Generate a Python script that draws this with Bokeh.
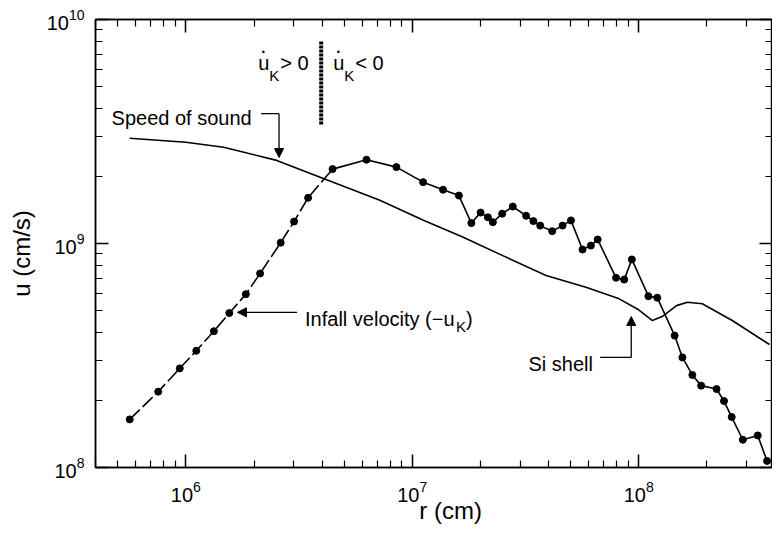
from bokeh.plotting import figure
from bokeh.models import (LogAxis, FixedTicker, Label, Arrow, NormalHead, Range1d,
                          CustomJSTickFormatter)
from bokeh.embed import file_html
from bokeh.resources import INLINE

# ---------------- data ----------------
sound_r = [5.65e5, 1.00e6, 1.47e6, 2.52e6, 4.05e6, 7.19e6, 1.12e7, 1.67e7,
           2.51e7, 3.90e7, 5.85e7, 8.20e7, 1.00e8, 1.15e8, 1.27e8, 1.47e8, 1.64e8,
           1.91e8, 2.59e8, 3.78e8]
sound_u = [2.95e9, 2.83e9, 2.69e9, 2.35e9, 1.95e9, 1.56e9, 1.27e9, 1.07e9,
           8.83e8, 7.19e8, 6.38e8, 5.66e8, 5.06e8, 4.53e8, 4.72e8, 5.28e8, 5.47e8,
           5.38e8, 4.53e8, 3.54e8]

# infall velocity, dashed inner part (up to the crossing)
infall_in_r = [5.65e5, 7.55e5, 9.40e5, 1.112e6, 1.33e6, 1.556e6, 1.841e6, 2.128e6,
               2.624e6, 3.006e6, 3.467e6, 4.446e6]
infall_in_u = [1.64e8, 2.18e8, 2.77e8, 3.32e8, 4.06e8, 4.89e8, 5.94e8, 7.35e8,
               1.009e9, 1.253e9, 1.600e9, 2.148e9]
# infall velocity, solid outer part
infall_out_r = [4.446e6, 6.281e6, 8.51e6, 1.117e7, 1.368e7, 1.607e7, 1.824e7, 2.004e7,
                2.158e7, 2.270e7, 2.495e7, 2.780e7, 3.184e7, 3.428e7, 3.673e7, 4.150e7,
                4.613e7, 5.023e7, 5.649e7, 6.152e7, 6.592e7, 7.943e7, 8.630e7, 9.33e7,
                1.104e8, 1.208e8, 1.442e8, 1.560e8, 1.726e8, 1.888e8, 2.208e8, 2.382e8,
                2.576e8, 2.884e8, 3.357e8, 3.690e8]
infall_out_u = [2.148e9, 2.366e9, 2.193e9, 1.879e9, 1.738e9, 1.637e9, 1.233e9, 1.374e9,
                1.309e9, 1.245e9, 1.358e9, 1.462e9, 1.330e9, 1.259e9, 1.202e9, 1.135e9,
                1.202e9, 1.268e9, 9.40e8, 9.79e8, 1.042e9, 7.03e8, 6.90e8, 8.49e8,
                5.82e8, 5.73e8, 3.88e8, 3.10e8, 2.59e8, 2.32e8, 2.24e8, 1.98e8,
                1.68e8, 1.33e8, 1.39e8, 1.07e8]

x_major = [1e6, 1e7, 1e8]
x_minor = [m * 10 ** e for e in (5, 6, 7, 8) for m in range(2, 10)]
y_major = [1e8, 1e9, 1e10]
y_minor = [m * 10 ** e for e in (8, 9) for m in range(2, 10)]

FONT = "Liberation Sans"
NB = "\u00a0"

p = figure(width=772, height=527, x_axis_type="log", y_axis_type="log",
           x_range=Range1d(3.99e5, 3.90e8), y_range=Range1d(1e8, 1e10),
           x_axis_label=NB * 5 + "r (cm)", y_axis_label="u (cm/s)" + NB * 3,
           output_backend="svg", toolbar_location=None,
           min_border_left=95, min_border_right=0, min_border_top=19,
           min_border_bottom=60)
p.xgrid.visible = False
p.ygrid.visible = False
p.outline_line_color = "black"
p.outline_line_width = 1.5
p.background_fill_color = "white"
p.border_fill_color = "white"


def style_axis(ax, labels=True):
    ax.axis_line_width = 1.5
    ax.axis_line_color = "black"
    ax.major_tick_in = 13
    ax.major_tick_out = 0
    ax.minor_tick_in = 7
    ax.minor_tick_out = 0
    ax.major_tick_line_width = 1.5
    ax.minor_tick_line_width = 1.2
    ax.major_tick_line_color = "black"
    ax.minor_tick_line_color = "black"
    ax.major_label_text_font = FONT
    ax.major_label_text_color = "black"
    ax.axis_label_text_font = FONT
    ax.axis_label_text_font_style = "normal"
    ax.axis_label_text_color = "black"
    ax.major_label_text_font_size = "20px"
    ax.axis_label_text_font_size = "24px"
    if not labels:
        ax.formatter = CustomJSTickFormatter(code="return ''")
        ax.major_label_standoff = 0


xt = FixedTicker(ticks=x_major, minor_ticks=x_minor)
yt = FixedTicker(ticks=y_major, minor_ticks=y_minor)

bx = p.xaxis[0]
bx.ticker = xt
style_axis(bx)
bx.major_label_standoff = 13
bx.axis_label_standoff = -8

ly = p.yaxis[0]
ly.ticker = yt
style_axis(ly)
ly.major_label_standoff = 11
ly.axis_label_standoff = 9

tx = LogAxis(ticker=xt)
style_axis(tx, labels=False)
p.add_layout(tx, "above")
ry = LogAxis(ticker=yt)
style_axis(ry, labels=False)
p.add_layout(ry, "right")

# ---------------- curves ----------------
p.line(sound_r, sound_u, line_color="black", line_width=1.6)
p.line(infall_in_r, infall_in_u, line_color="black", line_width=1.6, line_dash="14 4")
p.line(infall_out_r, infall_out_u, line_color="black", line_width=1.6)
p.scatter(infall_in_r + infall_out_r[1:], infall_in_u + infall_out_u[1:],
          size=7, marker="circle", fill_color="black", line_color="black")

# ---------------- annotations ----------------
def lab(x, y, text, size=20, dx=0, dy=0, align="left", baseline="alphabetic"):
    p.add_layout(Label(x=x, y=y, text=text, x_offset=dx, y_offset=dy,
                       text_font=FONT, text_font_size=f"{size}px",
                       text_align=align, text_baseline=baseline,
                       text_color="black"))

def arrow(x0, y0, x1, y1):
    p.add_layout(Arrow(x_start=x0, y_start=y0, x_end=x1, y_end=y1,
                       line_color="black", line_width=1.3,
                       end=NormalHead(size=9, fill_color="black", line_color="black",
                                      line_width=1)))

# dividing wavy line where du_K/dt changes sign
p.line([3.96e6, 3.96e6], [7.98e9, 3.40e9], line_color="black", line_width=4,
       line_dash="3 1")

for dx0, sign in ((0, "> 0"), (75, "< 0")):
    lab(2.09e6, 6.37e9, "u", dx=dx0)
    lab(2.09e6, 6.37e9, ".", size=22, dx=dx0 + 5, dy=18, align="center")
    lab(2.09e6, 6.37e9, "K", size=15, dx=dx0 + 11, dy=-12)
    lab(2.09e6, 6.37e9, sign, dx=dx0 + 22)

# speed of sound
lab(4.70e5, 3.65e9, "Speed of sound")
p.line([2.15e6, 2.58e6], [3.80e9, 3.80e9], line_color="black", line_width=1.3)
arrow(2.58e6, 3.80e9, 2.58e6, 2.42e9)

# infall velocity
lab(3.36e6, 4.58e8, "Infall velocity (\u2212u")
lab(3.36e6, 4.58e8, "K", size=15, dx=151, dy=-7)
lab(3.36e6, 4.58e8, ")", dx=161)
arrow(3.10e6, 4.93e8, 1.69e6, 4.93e8)

# Si shell
lab(3.26e7, 2.91e8, "Si shell")
p.line([6.76e7, 9.27e7], [3.10e8, 3.10e8], line_color="black", line_width=1.3)
arrow(9.27e7, 3.10e8, 9.27e7, 4.72e8)

open("out.html", "w").write(file_html(p, INLINE))
